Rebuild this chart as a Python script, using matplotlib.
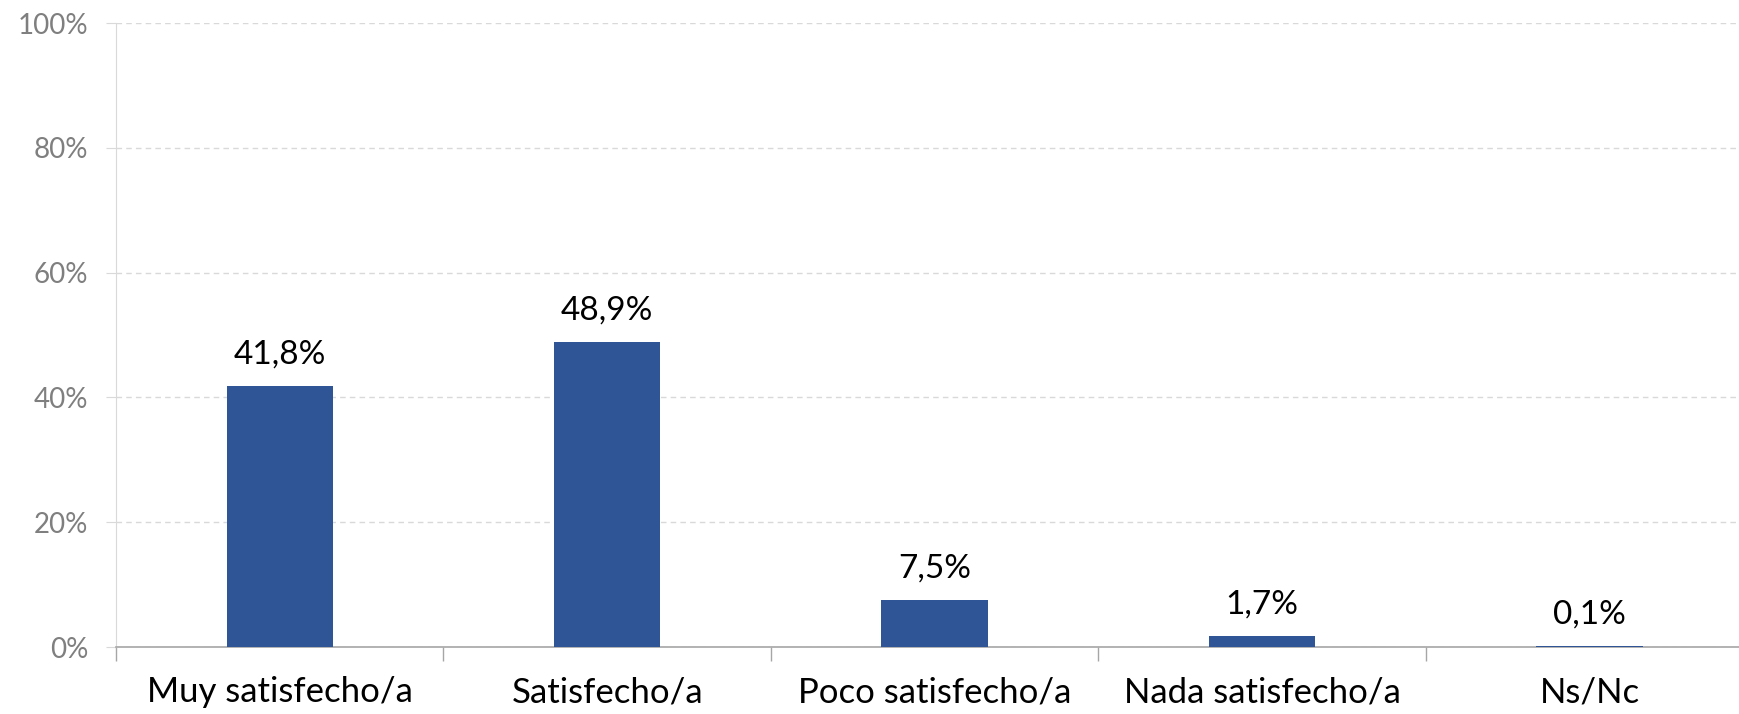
import numpy as np
import matplotlib.pyplot as plt
from matplotlib.ticker import FixedLocator, PercentFormatter

categories = ["Muy satisfecho/a", "Satisfecho/a", "Poco satisfecho/a",
              "Nada satisfecho/a", "Ns/Nc"]
values = [41.8, 48.9, 7.5, 1.7, 0.1]
value_labels = ["41,8%", "48,9%", "7,5%", "1,7%", "0,1%"]

bar_color = "#2F5597"

plt.rcParams["font.family"] = ["Lato", "DejaVu Sans"]

fig = plt.figure(figsize=(17.39, 7.14), dpi=100)
ax = fig.add_axes([116 / 1739, 1 - 647 / 714, 1 - 116 / 1739, 624 / 714])

x = np.arange(len(categories))
ax.bar(x, values, width=0.325, color=bar_color, zorder=3)

for xi, v, lab in zip(x, values, value_labels):
    ax.annotate(lab, (xi, v), xytext=(0, 12), textcoords="offset points",
                ha="center", va="bottom", fontsize=24, color="black")

ax.set_ylim(0, 100)
ax.set_xlim(-0.5, 4.456)
ax.set_yticks(np.arange(0, 101, 20))
ax.yaxis.set_major_formatter(PercentFormatter(decimals=0))
ax.grid(axis="y", color="#D9D9D9", linestyle=(0, (4, 3)), linewidth=1, zorder=0)

ax.set_xticks(x)
ax.set_xticklabels(categories, fontsize=25)
ax.xaxis.set_minor_locator(FixedLocator(np.arange(-0.5, 5, 1)))
ax.tick_params(axis="x", which="major", length=0, pad=21)
ax.tick_params(axis="x", which="minor", length=10, color="#A6A6A6", width=1)
ax.tick_params(axis="y", length=7, color="#D9D9D9", labelsize=20,
               labelcolor="#7F7F7F", pad=13)

for s in ["top", "right"]:
    ax.spines[s].set_visible(False)
ax.spines["left"].set_color("#D9D9D9")
ax.spines["bottom"].set_color("#A6A6A6")
ax.spines["bottom"].set_linewidth(1.2)

fig.savefig("out.png", dpi=100)
